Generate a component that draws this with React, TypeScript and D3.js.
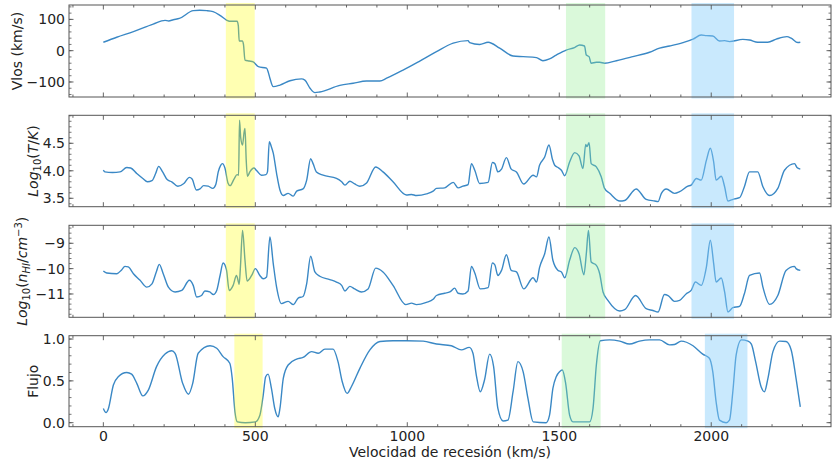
import React from 'react';
import * as d3 from 'd3';

// ---------- data (km/s, value) ----------
const vlosData: [number, number][] = [
  [0,27],[44,43],[99,61],[164,85],[203,97],[215,95],[230,99],[250,103],[296,128],[317,129],[340,128],[361,125],[385,112],[405,98],[415,94],[440,94],[444,80],[447,31],[457,31],[461,20],[466,-30],[480,-33],[493,-36],[510,-51],[537,-56],[543,-70],[548,-88],[559,-115],[581,-110],[614,-96],[652,-90],[663,-94],[680,-120],[696,-134],[712,-132],[778,-111],[822,-104],[866,-97],[910,-97],[932,-88],[986,-62],[1041,-33],[1096,-3],[1151,24],[1200,32],[1205,26],[1238,20],[1266,27],[1304,8],[1348,-17],[1381,-19],[1425,-22],[1446,-32],[1468,-26],[1490,-14],[1523,2],[1550,10],[1567,18],[1583,15],[1589,-14],[1598,-19],[1605,-40],[1622,-37],[1633,-37],[1649,-40],[1688,-32],[1742,-19],[1797,-5],[1830,8],[1863,15],[1907,26],[1940,37],[1967,50],[1984,48],[2005,47],[2027,31],[2044,32],[2060,29],[2104,36],[2126,34],[2153,27],[2186,27],[2214,37],[2249,45],[2263,40],[2285,26],[2293,27]
];

const tempData: [number, number][] = [
  [0,4.01],[5,3.98],[30,3.97],[55,3.98],[77,4.06],[90,4.05],[110,3.95],[130,3.86],[145,3.8],[160,3.82],[172,3.95],[182,4.08],[195,3.98],[210,3.84],[225,3.8],[245,3.72],[265,3.77],[283,3.88],[292,3.85],[306,3.65],[318,3.67],[330,3.73],[345,3.72],[360,3.68],[370,3.75],[378,3.98],[386,4.1],[392,4.13],[400,4.05],[410,3.78],[417,3.73],[430,3.85],[440,3.93],[445,3.92],[448,4.92],[452,4.6],[458,4.47],[463,4.7],[466,4.77],[470,4.2],[474,3.9],[482,3.98],[495,4.05],[505,4.0],[520,3.92],[535,3.93],[540,3.98],[546,4.53],[552,4.45],[559,4.32],[570,3.95],[581,3.65],[592,3.55],[608,3.59],[625,3.54],[636,3.63],[657,3.67],[669,3.83],[682,4.22],[690,4.13],[701,3.98],[723,3.92],[767,3.86],[784,3.8],[795,3.74],[811,3.81],[827,3.76],[844,3.72],[866,3.78],[896,4.07],[920,3.98],[953,3.8],[997,3.56],[1014,3.57],[1030,3.55],[1063,3.58],[1085,3.63],[1096,3.68],[1123,3.69],[1151,3.79],[1167,3.69],[1183,3.72],[1200,3.75],[1211,4.13],[1222,4.01],[1238,3.77],[1266,3.79],[1280,4.15],[1288,4.13],[1298,3.98],[1310,4.03],[1326,4.24],[1342,4.03],[1359,3.98],[1383,3.76],[1414,3.92],[1425,3.89],[1435,4.1],[1452,4.25],[1466,4.47],[1478,4.2],[1485,4.1],[1496,4.06],[1507,4.01],[1518,3.91],[1534,4.16],[1551,4.33],[1565,4.27],[1578,4.04],[1587,4.48],[1591,4.44],[1598,4.51],[1605,4.13],[1622,4.07],[1638,3.89],[1649,3.68],[1666,3.59],[1699,3.45],[1715,3.46],[1753,3.67],[1786,3.48],[1814,3.45],[1825,3.44],[1836,3.59],[1852,3.67],[1879,3.59],[1896,3.62],[1923,3.72],[1934,3.74],[1951,3.86],[1967,3.83],[1984,4.19],[1997,4.41],[2008,4.16],[2016,3.83],[2033,3.9],[2044,3.71],[2055,3.45],[2066,3.47],[2077,3.49],[2093,3.51],[2109,3.71],[2126,3.98],[2153,3.98],[2170,3.71],[2192,3.55],[2219,3.68],[2241,4.01],[2274,4.13],[2282,4.06],[2293,4.03]
];

const densData: [number, number][] = [
  [0,-10.09],[11,-10.17],[44,-10.2],[60,-10.05],[71,-9.91],[82,-9.93],[99,-10.2],[120,-10.45],[143,-10.73],[160,-10.6],[175,-10.1],[184,-9.83],[197,-10.2],[214,-10.73],[236,-10.92],[258,-10.86],[283,-10.46],[296,-10.67],[307,-11.12],[323,-11.06],[334,-10.88],[350,-10.92],[362,-11.02],[373,-10.86],[384,-10.27],[394,-9.78],[405,-10.04],[414,-10.86],[427,-10.66],[438,-10.27],[445,-10.55],[447,-10.62],[451,-9.93],[458,-8.49],[466,-9.67],[473,-10.49],[488,-10.27],[500,-10.0],[515,-10.27],[526,-10.4],[537,-10.33],[548,-8.75],[559,-9.8],[570,-10.73],[586,-11.38],[608,-11.29],[625,-11.42],[641,-11.16],[657,-11.1],[669,-10.59],[682,-9.51],[696,-10.13],[712,-10.3],[745,-10.43],[767,-10.53],[784,-10.66],[795,-10.88],[811,-10.7],[827,-10.8],[849,-10.92],[871,-10.8],[896,-9.98],[920,-10.13],[953,-10.66],[995,-11.42],[1014,-11.36],[1030,-11.42],[1063,-11.33],[1085,-11.21],[1096,-11.06],[1123,-10.97],[1140,-10.92],[1156,-10.77],[1167,-10.97],[1183,-11.0],[1200,-10.88],[1211,-9.91],[1222,-10.17],[1240,-10.8],[1266,-10.75],[1280,-9.78],[1288,-9.85],[1298,-10.27],[1310,-10.07],[1326,-9.45],[1342,-10.07],[1359,-10.13],[1383,-10.8],[1414,-10.36],[1425,-10.53],[1435,-9.96],[1452,-9.41],[1466,-8.75],[1479,-9.67],[1496,-10.07],[1507,-10.13],[1518,-10.36],[1534,-9.67],[1551,-9.17],[1565,-9.41],[1581,-10.24],[1589,-9.41],[1596,-8.49],[1605,-9.74],[1622,-9.87],[1633,-10.2],[1644,-10.92],[1660,-11.25],[1699,-11.67],[1715,-11.62],[1751,-11.06],[1786,-11.58],[1808,-11.65],[1825,-11.71],[1846,-11.02],[1858,-11.06],[1879,-11.29],[1896,-11.25],[1918,-10.99],[1934,-10.86],[1948,-10.53],[1967,-10.66],[1984,-9.94],[1997,-8.88],[2008,-9.8],[2016,-10.53],[2033,-10.37],[2044,-10.92],[2055,-11.71],[2071,-11.54],[2093,-11.49],[2109,-10.99],[2126,-10.27],[2159,-10.17],[2170,-10.73],[2192,-11.41],[2219,-11.06],[2246,-10.07],[2274,-9.91],[2279,-10.0],[2293,-10.07]
];

const fluxData: [number, number][] = [
  [0,0.17],[9,0.12],[16,0.16],[33,0.45],[49,0.55],[77,0.6],[93,0.58],[110,0.47],[130,0.32],[148,0.39],[175,0.67],[203,0.82],[225,0.86],[236,0.83],[261,0.47],[280,0.34],[294,0.47],[312,0.83],[351,0.92],[373,0.89],[394,0.79],[416,0.71],[424,0.53],[433,0.13],[441,0.01],[467,0.0],[500,0.01],[515,0.09],[526,0.33],[534,0.55],[542,0.58],[553,0.41],[564,0.17],[575,0.07],[581,0.17],[592,0.53],[608,0.69],[636,0.76],[657,0.78],[685,0.85],[707,0.83],[729,0.88],[756,0.88],[772,0.73],[786,0.49],[802,0.35],[816,0.43],[844,0.65],[877,0.87],[910,0.97],[953,0.98],[997,0.98],[1052,0.975],[1096,0.94],[1145,0.92],[1178,0.87],[1204,0.9],[1216,0.83],[1227,0.57],[1240,0.37],[1254,0.51],[1271,0.82],[1284,0.67],[1298,0.17],[1315,0.02],[1331,0.03],[1348,0.37],[1364,0.73],[1381,0.61],[1397,0.29],[1414,0.01],[1457,0.0],[1468,0.09],[1479,0.41],[1490,0.55],[1501,0.61],[1510,0.63],[1521,0.47],[1534,0.09],[1545,0.01],[1600,0.01],[1611,0.17],[1622,0.69],[1635,0.98],[1666,0.99],[1699,0.975],[1731,0.94],[1764,0.975],[1797,0.99],[1830,0.99],[1863,0.93],[1879,0.935],[1901,0.975],[1940,0.92],[1972,0.82],[1994,0.77],[2005,0.61],[2016,0.25],[2027,0.03],[2049,0.0],[2060,0.03],[2071,0.37],[2082,0.81],[2099,0.99],[2121,0.975],[2132,0.94],[2146,0.73],[2164,0.43],[2175,0.37],[2186,0.52],[2203,0.85],[2225,0.975],[2246,0.97],[2263,0.87],[2279,0.53],[2293,0.19]
];

// highlighted velocity ranges [start, end]
const bandsUpper: [number, number][] = [[403, 498], [1522, 1651], [1935, 2075]];
const bandsFlux: [number, number][] = [[431, 524], [1508, 1636], [1979, 2119]];
const bandColors = ['#ffff00', '#90ee90', '#87cefa'];
const bandOpacity = [0.3, 0.33, 0.45];

const xMajorTicks = [0, 500, 1000, 1500, 2000];
const xTickLabels = ['0', '500', '1000', '1500', '2000'];

const vlosTicks = [-100, 0, 100];
const vlosTickLabels = ['\u2212100', '0', '100'];
const tempTicks = [3.5, 4.0, 4.5];
const tempTickLabels = ['3.5', '4.0', '4.5'];
const densTicks = [-11, -10, -9];
const densTickLabels = ['\u221211', '\u221210', '\u22129'];
const fluxTicks = [0, 0.5, 1.0];
const fluxTickLabels = ['0.0', '0.5', '1.0'];

const LINE = '#3a88c5';
const AX = '#555';
const FONT = 'DejaVu Sans, sans-serif';

export default function App() {
  const left = 69, right = 831;
  const x = d3.scaleLinear().domain([-113, 2394]).range([left, right]);

  const panels = [
    { top: 5, bottom: 97, domain: [-148, 146], data: vlosData, ticks: vlosTicks, labels: vlosTickLabels, minor: [-140, 140, 20], bands: bandsUpper, labelX: 22,
      label: <>Vlos (km/s)</> },
    { top: 115.3, bottom: 206.7, domain: [3.347, 5.009], data: tempData, ticks: tempTicks, labels: tempTickLabels, minor: [3.4, 5.0, 0.1], bands: bandsUpper, labelX: 37.5,
      label: <><tspan fontStyle="italic">Log</tspan><tspan fontSize={10} dy={3}>10</tspan><tspan dy={-3}>(</tspan><tspan fontStyle="italic">T</tspan><tspan>/</tspan><tspan fontStyle="italic">K</tspan><tspan>)</tspan></> },
    { top: 225.3, bottom: 317.3, domain: [-11.92, -8.29], data: densData, ticks: densTicks, labels: densTickLabels, minor: [-11.8, -8.4, 0.2], bands: bandsUpper, labelX: 27,
      label: <><tspan fontStyle="italic">Log</tspan><tspan fontSize={10} dy={3}>10</tspan><tspan dy={-3}>(</tspan><tspan fontStyle="italic">n</tspan><tspan fontStyle="italic" fontSize={10} dy={3}>HI</tspan><tspan dy={-3}>/</tspan><tspan fontStyle="italic">cm</tspan><tspan fontSize={10} dy={-5}>{'\u22123'}</tspan><tspan dy={5}>)</tspan></> },
    { top: 335.7, bottom: 426.7, domain: [-0.048, 1.04], data: fluxData, ticks: fluxTicks, labels: fluxTickLabels, minor: [0, 1.0, 0.1], bands: bandsFlux, labelX: 38,
      label: <>Flujo</> },
  ];

  const xMinor: number[] = [];
  for (let v = -100; v <= 2300; v += 100) xMinor.push(v);

  return (
    <svg width={832} height={464} style={{ position: 'absolute', left: 0, top: 0, background: '#fff' }} fontFamily={FONT}>
      {panels.map((p, pi) => {
        const y = d3.scaleLinear().domain(p.domain).range([p.bottom, p.top]);
        const line = d3.line<[number, number]>().x(d => x(d[0])).y(d => y(d[1])).curve(d3.curveMonotoneX);
        const [m0, m1, ms] = p.minor;
        const n = Math.round((m1 - m0) / ms);
        const yMinor = d3.range(n + 1).map(i => +(m0 + i * ms).toFixed(4)).filter(v => v >= p.domain[0] && v <= p.domain[1]);
        const cy = (p.top + p.bottom) / 2;
        return (
          <g key={pi}>
            <path d={line(p.data) || ''} fill="none" stroke={LINE} strokeWidth={1.4} strokeLinejoin="round" />
            {p.bands.map((b, bi) => (
              <rect key={bi} x={x(b[0])} width={x(b[1]) - x(b[0])} y={p.top - 2} height={p.bottom - p.top + 3.5}
                fill={bandColors[bi]} fillOpacity={bandOpacity[bi]} />
            ))}
            {/* x ticks top & bottom */}
            {xMinor.map(v => {
              const major = v % 500 === 0;
              const len = major ? 4.5 : 2.5;
              const xx = x(v);
              return (
                <g key={'xt' + v} stroke={AX} strokeWidth={0.9}>
                  <line x1={xx} x2={xx} y1={p.bottom} y2={p.bottom - len} />
                  <line x1={xx} x2={xx} y1={p.top} y2={p.top + len} />
                </g>
              );
            })}
            {/* y minor ticks */}
            {yMinor.map(v => (
              <g key={'ym' + v} stroke={AX} strokeWidth={0.8}>
                <line x1={left} x2={left + 2.5} y1={y(v)} y2={y(v)} />
                <line x1={right} x2={right - 2.5} y1={y(v)} y2={y(v)} />
              </g>
            ))}
            {p.ticks.map((v, i) => (
              <g key={'yt' + v}>
                <line x1={left} x2={left + 4.5} y1={y(v)} y2={y(v)} stroke={AX} strokeWidth={0.9} />
                <line x1={right} x2={right - 4.5} y1={y(v)} y2={y(v)} stroke={AX} strokeWidth={0.9} />
                <text x={65} y={y(v) + 5} textAnchor="end" fontSize={14} fill="#222">{p.labels[i]}</text>
              </g>
            ))}
            <rect x={left} y={p.top} width={right - left} height={p.bottom - p.top} fill="none" stroke={AX} strokeWidth={1} />
            <text transform={`translate(${p.labelX},${cy}) rotate(-90)`} textAnchor="middle" fontSize={14} fill="#222">{p.label}</text>
          </g>
        );
      })}
      {xMajorTicks.map((v, i) => (
        <text key={'xl' + v} x={x(v)} y={441} textAnchor="middle" fontSize={14} fill="#222">{xTickLabels[i]}</text>
      ))}
      <text x={(left + right) / 2} y={457} textAnchor="middle" fontSize={14} fill="#222">Velocidad de recesión (km/s)</text>
    </svg>
  );
}
